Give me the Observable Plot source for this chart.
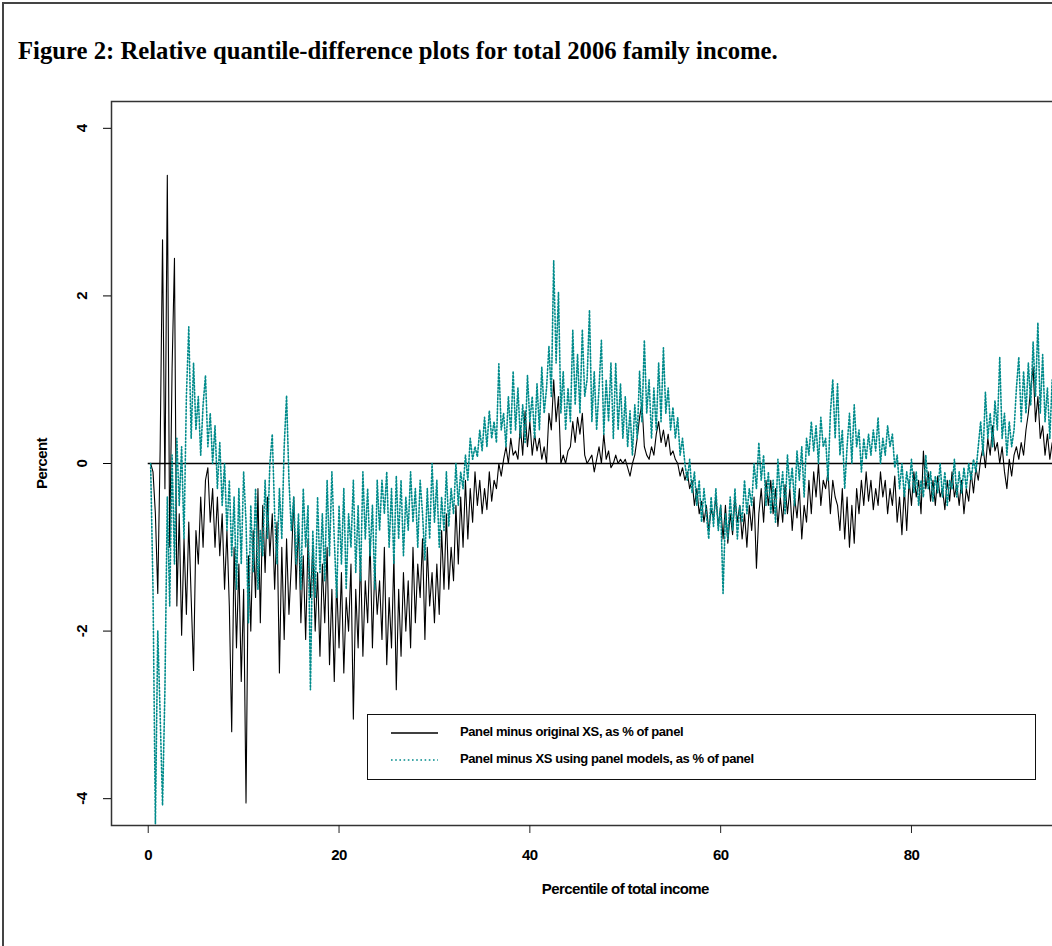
<!DOCTYPE html>
<html>
<head>
<meta charset="utf-8">
<script src="https://cdn.jsdelivr.net/npm/d3@7"></script>
<script src="https://cdn.jsdelivr.net/npm/@observablehq/plot@0.6"></script>
<style>
  html, body { margin: 0; padding: 0; background: #fff; width: 1052px; height: 946px; overflow: hidden; }
  #fig { position: absolute; left: 2px; top: 2px; width: 1200px; height: 1100px; border: 2px solid #444; box-sizing: border-box; }
  #title { position: absolute; left: 18px; top: 39px; font: bold 24.7px/24px "Liberation Serif", "Times New Roman", serif; white-space: nowrap; color: #000; }
  #chart { position: absolute; left: 0; top: 0; }
  #chart svg { max-width: none !important; }
  #legend { position: absolute; left: 367px; top: 714px; width: 669px; height: 66px; border: 1.5px solid #111; background: #fff; box-sizing: border-box; }
  #legend svg { position: absolute; left: 0; top: 0; }
  .lt { position: absolute; left: 92px; font: bold 13px "Liberation Sans", Arial, sans-serif; letter-spacing: -0.4px; white-space: nowrap; color: #000; }
</style>
</head>
<body>
<div id="fig"></div>
<div id="title"></div>
<div id="chart"></div>
<div id="legend"></div>
<script>
// ---- data -------------------------------------------------------------
const titleText = "Figure 2: Relative quantile-difference plots for total 2006 family income.";
const xLabel = "Percentile of total income";
const yLabel = "Percent";
const xTicks = [0, 20, 40, 60, 80];
const yTicks = [-4, -2, 0, 2, 4];
const seriesNames = ["Panel minus original XS, as % of panel", "Panel minus XS using panel models, as % of panel"];
const seriesColors = ["#000000", "#008b8b"];

// percentiles at quarter-point steps 0.25 .. 95
const percentile = d3.range(1, 381).map(i => i * 0.25);

// Panel minus original XS (%)
const panelMinusOrig = [
  0.0, -0.1, -0.6, -1.55,
  0.18, 2.67, -0.3, 3.44,
  -1.0, 1.13, 2.45, -1.7,
  -0.6, -2.05, -0.9, -1.8,
  -0.7, -1.6, -2.47, -0.8,
  -1.2, -0.4, -1.0, -0.2,
  -0.05, -0.7, -0.3, -1.0,
  -0.4, -1.1, -0.6, -1.5,
  -0.8, -1.7, -3.2, -1.0,
  -2.2, -1.2, -2.6, -1.5,
  -4.05, -1.1, -2.0, -0.8,
  -1.6, -0.3, -1.9, -0.5,
  -1.3, -0.4, -1.1, -0.6,
  -1.5, -0.7, -2.5, -1.0,
  -2.1, -0.9, -1.8, -1.2,
  -0.4, -1.5, -0.7, -1.9,
  -1.1, -2.1, -0.9, -1.6,
  -1.0, -2.0, -1.3, -2.3,
  -1.2, -1.9, -1.0, -2.4,
  -1.5, -2.6, -1.4, -2.2,
  -1.3, -2.5, -1.6, -2.0,
  -1.2, -3.05, -1.5, -2.2,
  -1.1, -2.3, -1.4, -1.9,
  -0.9, -2.2, -1.2, -1.8,
  -1.4, -2.1, -1.0, -2.4,
  -1.6, -2.2, -1.1, -2.7,
  -1.5, -2.3, -1.3, -2.0,
  -1.4, -2.2, -1.0, -1.9,
  -1.2, -1.6, -0.9, -2.1,
  -1.0, -1.7, -1.3, -1.9,
  -1.2, -1.8, -0.8, -1.5,
  -0.6, -1.5, -1.0, -1.4,
  -0.5, -1.2, -0.4, -1.0,
  -0.2, -0.9, -0.3, -0.7,
  -0.1, -0.5, -0.2, -0.6,
  -0.3, -0.55, -0.1, -0.45,
  -0.2, -0.3, 0.0, -0.15,
  0.05, 0.2, 0.0, 0.3,
  0.1, 0.15, 0.05, 0.45,
  0.1, 0.63, 0.2, 0.5,
  0.1, 0.35, 0.15, 0.3,
  0.05, 0.2, 0.0, 0.6,
  0.4, 1.0, 0.5, 0.8,
  0.0, 0.1, 0.0, 0.15,
  0.2, 0.5, 0.25, 0.55,
  0.35, 0.6, 0.1, 0.0,
  0.05, 0.1, -0.1, 0.05,
  0.2, 0.0, 0.35, 0.05,
  0.15, -0.05, 0.0, 0.1,
  0.0, 0.05, 0.0, 0.05,
  -0.05, -0.15, 0.0, 0.1,
  0.3, 0.55, 0.72, 0.2,
  0.1, 0.05, 0.2, 0.1,
  0.35, 0.5, 0.25, 0.4,
  0.2, 0.35, 0.1, 0.15,
  0.05, 0.0, -0.15, -0.05,
  -0.2, -0.1, -0.3, -0.2,
  -0.5, -0.3, -0.6, -0.45,
  -0.7, -0.5, -0.8, -0.55,
  -0.65, -0.4, -0.75, -0.5,
  -0.9, -0.5, -0.95, -0.6,
  -0.85, -0.4, -0.7, -0.5,
  -0.9, -0.6, -1.0, -0.5,
  -0.8, -0.4, -1.25, -0.6,
  -0.3, -0.7, -0.2, -0.5,
  -0.2, -0.6, -0.3, -0.75,
  -0.4, -0.7, -0.25, -0.6,
  -0.3, -0.8, -0.4, -0.65,
  -0.3, -0.9, -0.5, -0.7,
  -0.2, -0.6, -0.1, -0.4,
  0.0, -0.5, -0.2, -0.3,
  -0.1, -0.6, -0.2, -0.4,
  -0.5, -0.8, -0.3, -0.9,
  -0.4, -1.0, -0.5, -0.95,
  -0.3, -0.6, -0.2, -0.5,
  -0.1, -0.45, -0.2, -0.55,
  -0.3, -0.5, -0.1, -0.4,
  -0.2, -0.6, -0.3, -0.5,
  -0.15, -0.7, -0.4, -0.85,
  -0.3, -0.8, -0.2, -0.5,
  -0.1, -0.4, -0.2, -0.6,
  0.15, -0.3, -0.1, -0.45,
  -0.2, -0.5, -0.15, -0.4,
  -0.3, -0.55, -0.2, -0.45,
  -0.1, -0.4, -0.25, -0.5,
  -0.2, -0.6, -0.3, -0.45,
  -0.1, -0.35, -0.05, -0.2,
  0.05, 0.2, -0.05, 0.3,
  0.1, 0.45, 0.15, 0.25,
  0.0, 0.2, -0.1, -0.3,
  0.05, -0.15, 0.1, 0.2,
  0.05, 0.25, 0.1, 0.4,
  0.6, 0.9, 1.15, 0.5,
  0.8, 0.3, 0.45, 0.1,
  0.35, 0.05, 0.25, -0.05
];

// Panel minus XS using panel models (%)
const panelMinusModel = [
  0.0, -1.5, -4.3, -2.0,
  -3.0, -4.08, -2.7, -0.4,
  -1.7, 0.1, -1.2, 0.3,
  -0.5, 0.2, -0.9, 0.8,
  1.63, 0.3, 1.2, 0.4,
  0.8, 0.1, 0.7, 1.05,
  0.2, 0.6, 0.0, 0.45,
  -0.3, 0.25, -0.5, 0.0,
  -0.8, -0.2, -1.1, -0.4,
  -1.5, -0.3, -1.2, -0.1,
  -0.7, -1.9, -0.5, -1.3,
  -0.3, -1.5, -0.8, -1.1,
  -0.2, -0.9, 0.0, 0.35,
  -0.6, -1.2, -0.3, -0.9,
  0.2, 0.81, -0.2, -0.8,
  -0.4, -1.2, -0.6, -1.5,
  -0.3, -1.0, -0.5, -2.7,
  -0.8, -1.6, -0.4, -1.3,
  -0.6, -1.4, -0.2, -1.1,
  -0.1, -0.9, -1.6, -0.5,
  -1.2, -0.3, -1.5, -0.6,
  -1.0, -0.2, -1.3, -0.5,
  -1.4, -0.1, -0.9, -0.3,
  -1.1, -0.5, -1.5, -0.2,
  -0.8, -0.2, -0.6, -0.1,
  -1.0, -0.3, -1.2, -0.15,
  -0.9, -0.2, -1.1, -0.4,
  -0.8, -0.1, -0.7, -0.3,
  -1.0, -0.2, -0.6, -1.15,
  -0.3, -0.9, 0.0, -0.7,
  -0.2, -1.0, -0.4, -0.8,
  -0.1, -0.75, -0.3, -0.6,
  0.0, -0.5, -0.1, -0.3,
  0.1, -0.2, 0.3, 0.05,
  0.2, 0.08, 0.4, 0.15,
  0.55, 0.2, 0.63, 0.3,
  0.5, 0.25, 1.19, 0.4,
  0.6, 0.2, 0.8, 0.35,
  1.1, 0.4, 0.9, 0.3,
  0.7, 0.25, 1.05, 0.5,
  0.8, 0.3, 0.95, 0.4,
  1.15, 0.6, 0.9, 1.4,
  0.8, 2.42, 1.2, 2.04,
  0.6, 1.1, 0.4, 0.9,
  0.5, 1.59, 0.7, 1.3,
  0.6, 1.6, 0.8, 1.0,
  1.83, 0.5, 1.1, 0.4,
  0.9, 1.47, 0.35, 1.0,
  0.5, 1.2, 0.3, 1.2,
  0.4, 0.95, 0.3, 0.8,
  0.2, 0.63, 0.1, 0.7,
  0.3, 1.1, 0.5, 1.47,
  0.6, 1.0, 0.3, 0.9,
  0.4, 1.2, 0.5, 1.38,
  0.6, 0.9, 0.4, 0.67,
  0.3, 0.55, 0.1, 0.3,
  0.0, -0.2, 0.05, -0.35,
  -0.1, -0.5, -0.2, -0.7,
  -0.3, -0.6, -0.9, -0.4,
  -0.75, -0.3, -0.8, -0.5,
  -1.55, -0.6, -0.9, -0.4,
  -0.8, -0.3, -0.9, -0.5,
  -0.7, -0.2, -0.6, -0.3,
  -0.5, 0.0, -0.3, 0.25,
  -0.2, 0.1, -0.5, -0.1,
  -0.6, -0.2, -0.7, 0.05,
  -0.4, -0.1, -0.6, 0.1,
  -0.3, -0.05, -0.5, 0.15,
  -0.2, 0.2, -0.4, 0.3,
  0.1, 0.5, 0.15, 0.45,
  0.0, 0.55, 0.2, 0.3,
  -0.2, 0.6, 1.0, 0.3,
  0.95, 0.1, 0.4, -0.3,
  0.2, 0.6, 0.0, 0.7,
  0.2, 0.4, -0.1, 0.3,
  0.05, 0.35, 0.1, 0.4,
  0.15, 0.55, 0.0, 0.3,
  0.1, 0.45, 0.2, 0.35,
  -0.05, 0.1, -0.3, 0.0,
  -0.4, -0.1, -0.3, 0.05,
  -0.35, -0.1, -0.5, -0.2,
  -0.4, 0.1, -0.3, -0.1,
  -0.45, -0.15, -0.35, 0.0,
  -0.4, -0.1, -0.5, -0.2,
  -0.3, 0.05, -0.4, -0.1,
  -0.35, -0.05, -0.3, 0.0,
  -0.2, 0.05, -0.1, 0.2,
  0.5, 0.1, 0.85, 0.3,
  0.6, 0.2, 0.75, 0.4,
  1.27, 0.3, 0.6, 0.1,
  0.5, 0.2, 0.4, 0.9,
  1.27, 0.5, 1.1, 0.6,
  1.2, 0.7, 1.45, 0.8,
  1.68, 0.6, 1.3, 0.5,
  0.9, 0.3, 1.0, 0.4
];

// ---- build ------------------------------------------------------------
document.getElementById("title").textContent = titleText;

const blackData = percentile.map((x, i) => ({x, y: panelMinusOrig[i]}));
const tealData = percentile.map((x, i) => ({x, y: panelMinusModel[i]}));

const W = 1160, H = 946;
const chart = Plot.plot({
  width: W,
  height: H,
  marginLeft: 111,
  marginRight: W - 1139,
  marginTop: 101,
  marginBottom: H - 825,
  x: {domain: [-3.85, 103.9], axis: null},
  y: {domain: [-4.32, 4.32], axis: null},
  style: {fontFamily: "'Liberation Sans', Arial, sans-serif", fontSize: "15px", fontWeight: "bold", background: "transparent", overflow: "visible", maxWidth: "none"},
  marks: [
    Plot.ruleY([0], {x1: 0, x2: 100, stroke: "#000", strokeWidth: 1.5}),
    Plot.line(blackData, {x: "x", y: "y", stroke: seriesColors[0], strokeWidth: 1.1}),
    Plot.line(tealData, {x: "x", y: "y", stroke: seriesColors[1], strokeWidth: 1.6, strokeDasharray: "1.6,1.9"}),
    Plot.frame({stroke: "#333", strokeWidth: 1.5}),
    Plot.axisX({ticks: xTicks, tickSize: 8, tickPadding: 16, tickFormat: d => String(d), label: null, fontSize: 15, fontWeight: "bold", stroke: "#222"}),
    Plot.axisY({ticks: yTicks, tickSize: 8, tickFormat: () => "", label: null}),
    Plot.text(yTicks, {y: d => d, text: d => String(d), frameAnchor: "left", dx: -29, rotate: -90, textAnchor: "middle", fontSize: 15, fontWeight: "bold"}),
    Plot.text([yLabel], {y: 0, frameAnchor: "left", dx: -69, rotate: -90, textAnchor: "middle", fontSize: 15, fontWeight: "bold"}),
    Plot.text([xLabel], {x: 50, frameAnchor: "bottom", dy: 68, textAnchor: "middle", fontSize: 15, fontWeight: "bold"})
  ]
});
chart.style.maxWidth = "none";
chart.querySelectorAll("text").forEach(t => t.style.letterSpacing = "-0.6px");
document.getElementById("chart").appendChild(chart);

// legend
const leg = document.getElementById("legend");
const ns = "http://www.w3.org/2000/svg";
const lsvg = document.createElementNS(ns, "svg");
lsvg.setAttribute("width", 669);
lsvg.setAttribute("height", 66);
const rowY = [18, 45];
seriesNames.forEach((name, i) => {
  const ln = document.createElementNS(ns, "line");
  ln.setAttribute("x1", 23); ln.setAttribute("x2", 70);
  ln.setAttribute("y1", rowY[i]); ln.setAttribute("y2", rowY[i]);
  ln.setAttribute("stroke", seriesColors[i]);
  ln.setAttribute("stroke-width", i === 0 ? 1.3 : 1.6);
  if (i === 1) ln.setAttribute("stroke-dasharray", "1.6,2.6");
  lsvg.appendChild(ln);
  const t = document.createElement("div");
  t.className = "lt";
  t.style.top = (rowY[i] - 9) + "px";
  t.textContent = name;
  leg.appendChild(t);
});
leg.appendChild(lsvg);
</script>
</body>
</html>
